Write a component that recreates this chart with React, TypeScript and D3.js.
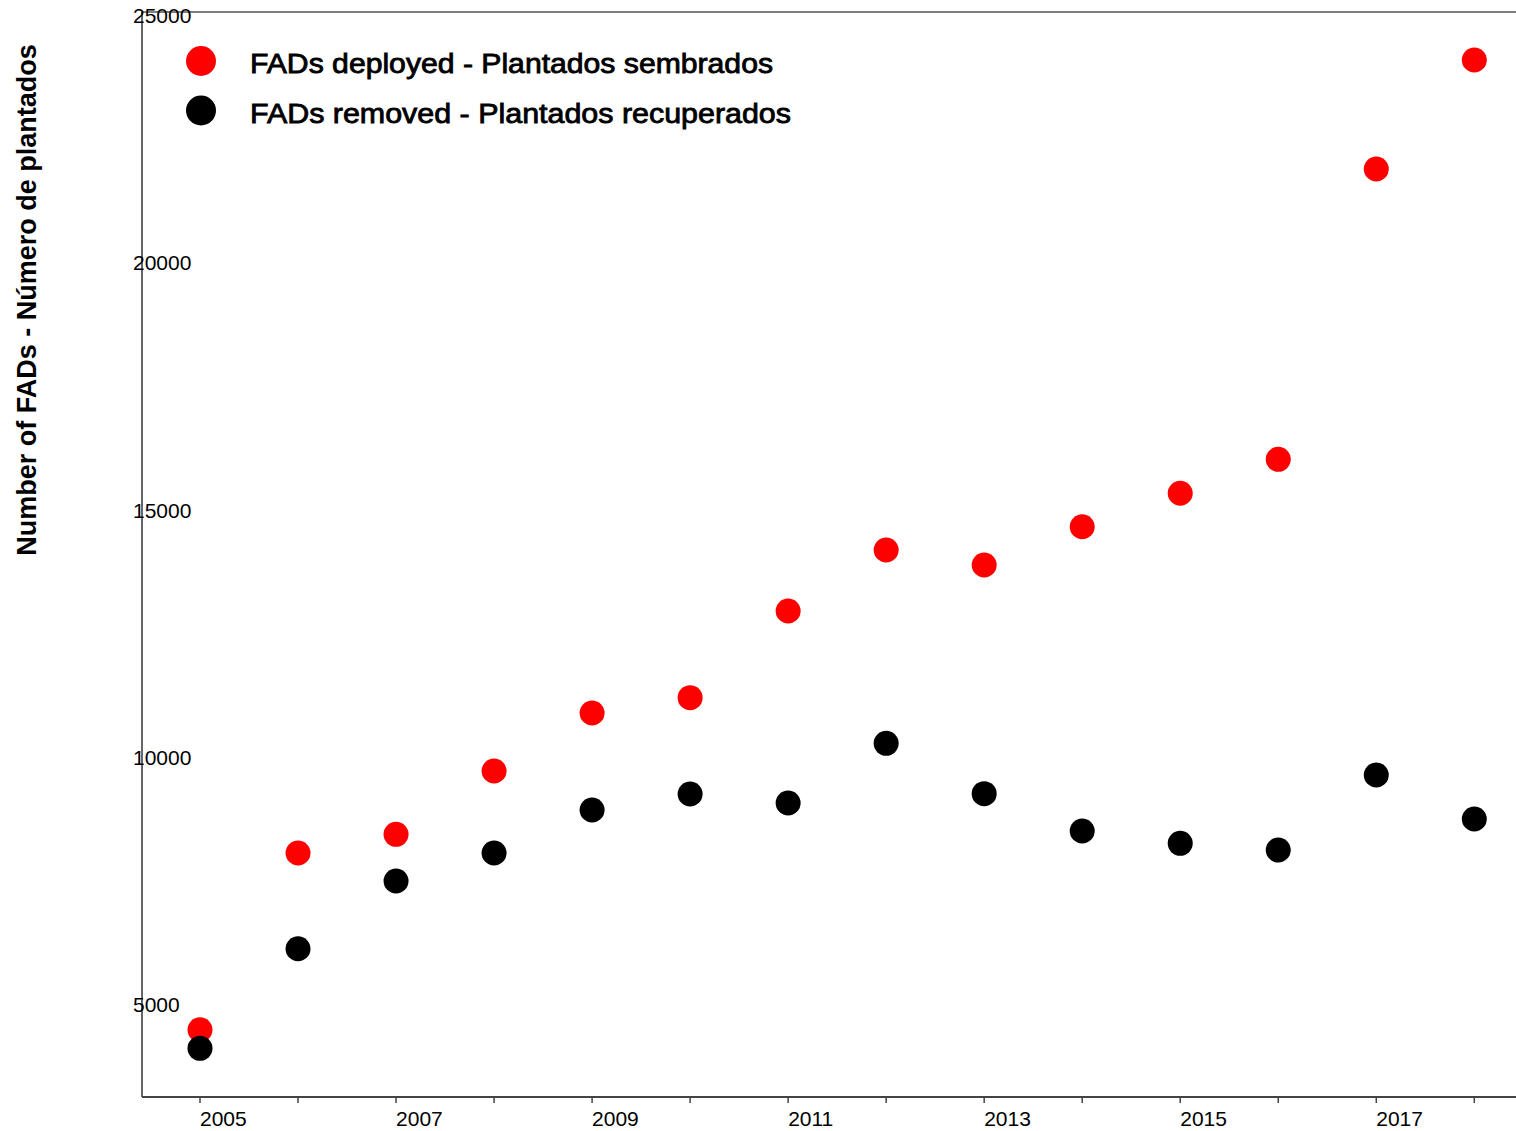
import React from "react";
import * as d3 from "d3";

const years = [2005, 2006, 2007, 2008, 2009, 2010, 2011, 2012, 2013, 2014, 2015, 2016, 2017, 2018];
const deployed = [4490, 8064, 8442, 9722, 10895, 11204, 12958, 14191, 13888, 14662, 15338, 16025, 21896, 24100];
const removed = [4114, 6128, 7497, 8064, 8933, 9257, 9075, 10282, 9263, 8509, 8260, 8124, 9641, 8751];
const yTicks = [5000, 10000, 15000, 20000, 25000];
const xLabelYears = [2005, 2007, 2009, 2011, 2013, 2015, 2017];
const legendLabels = ["FADs deployed - Plantados sembrados", "FADs removed - Plantados recuperados"];
const seriesColors = ["#ff0000", "#000000"];
const yTitle = "Number of FADs - Número de plantados";

const W = 1516;
const H = 1131;
const FONT = "'Liberation Sans', Arial, Helvetica, sans-serif";

export default function App() {
  const x = d3.scaleLinear().domain([2005, 2018]).range([200, 1474.3]);
  const y = d3.scaleLinear().domain([5000, 25000]).range([1004.5, 15.5]);
  const left = 142;
  const right = 1516;
  const top = 12;
  const bottom = 1097;
  const series = [deployed, removed];
  const legendWidths = [523, 541];

  return (
    <svg
      width={W}
      height={H}
      style={{ position: "absolute", left: 0, top: 0, background: "#fff" }}
      fontFamily={FONT}
    >
      <rect x={0} y={0} width={W} height={H} fill="#fff" />
      {/* frame lines */}
      <line x1={left} x2={right} y1={top} y2={top} stroke="#000" strokeWidth={1.2} />
      <line x1={left} x2={left} y1={top} y2={bottom} stroke="#333" strokeWidth={1.5} />
      <line x1={left} x2={right} y1={bottom} y2={bottom} stroke="#444" strokeWidth={2} />
      {/* x ticks */}
      {years.map((yr) => (
        <line key={"t" + yr} x1={x(yr)} x2={x(yr)} y1={bottom} y2={bottom + 6} stroke="#444" strokeWidth={1.5} />
      ))}
      {xLabelYears.map((yr) => (
        <text key={"xl" + yr} x={x(yr)} y={1126} fontSize={21} fill="#000" textAnchor="start">
          {yr}
        </text>
      ))}
      {/* y labels */}
      {yTicks.map((v) => (
        <text key={"yl" + v} x={133} y={y(v)} fontSize={21} fill="#000" dominantBaseline="central">
          {v}
        </text>
      ))}
      {/* y title */}
      <text
        transform={`translate(36, 300) rotate(-90)`}
        textAnchor="middle"
        fontSize={27}
        fontWeight="bold"
        fill="#000"
      >
        {yTitle}
      </text>
      {/* points */}
      {series.map((s, si) =>
        s.map((v, i) => (
          <circle key={si + "-" + i} cx={x(years[i])} cy={y(v)} r={12.5} fill={seriesColors[si]} />
        ))
      )}
      {/* legend */}
      {legendLabels.map((lab, i) => (
        <g key={"lg" + i}>
          <circle cx={201} cy={61 + i * 49.5} r={15} fill={seriesColors[i]} />
          <text
            x={250}
            y={64 + i * 49.5}
            fontSize={27}
            fill="#000"
            stroke="#000"
            strokeWidth={0.8}
            dominantBaseline="central"
            textLength={legendWidths[i]}
            lengthAdjust="spacingAndGlyphs"
          >
            {lab}
          </text>
        </g>
      ))}
    </svg>
  );
}
